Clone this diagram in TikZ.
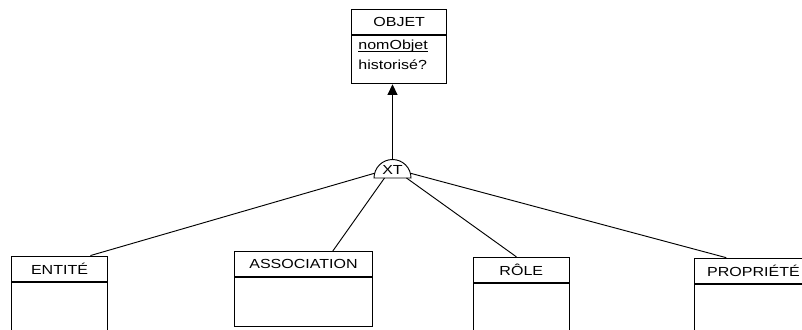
\documentclass[tikz,border=0pt]{standalone}
\usepackage{fontspec}
\setmainfont{Liberation Sans}[FakeStretch=1.22]
\usetikzlibrary{arrows.meta, positioning, calc}
\tikzset{
  classhead/.style={draw, line width=0.7pt, minimum height=19pt, inner sep=0pt},
  classbody/.style={draw, line width=0.7pt, minimum height=36.3pt, inner sep=5pt, align=left},
  link/.style={line width=0.7pt},
}

\begin{document}
\begin{tikzpicture}[x=0.75pt, y=-0.75pt, every node/.style={font=\fontsize{9.85}{15}\selectfont}]
  \clip (0,0) rectangle (802,329);
  % super type
  \node[classhead, minimum width=71.25pt] (obj) at (399.2,21.8) {OBJET};
  \node[classbody, text width=61.25pt, below=0pt of obj] (objattr) {\underline{\smash{nomObjet}}\\historisé?};
  % sub types
  \node[classhead, minimum width=71.7pt] (ent) at (59.5,268.7) {ENTITÉ};
  \node[classbody, minimum width=71.7pt, below=0pt of ent] (entattr) {};
  \node[classhead, minimum width=103.8pt] (asso) at (303.5,264.2) {ASSOCIATION};
  \node[classbody, minimum width=103.8pt, below=0pt of asso] (assoattr) {};
  \node[classhead, minimum width=72pt] (role) at (521.3,270) {RÔLE};
  \node[classbody, minimum width=72pt, below=0pt of role] (roleattr) {};
  \node[classhead, minimum width=89.25pt] (prop) at (753.5,270.8) {PROPRIÉTÉ};
  \node[classbody, minimum width=89.25pt, below=0pt of prop] (propattr) {};
  % XT specialisation
  \coordinate (xt) at (392.5,178);
  \coordinate (xttop) at ($(xt)+(0,-18.5)$);
  \draw[link] (xt) ++(-18.5,0) arc[start angle=180, end angle=360, radius=18.5] -- cycle;
  \node (xtlabel) at (392.5,170) {XT};
  \draw[link, -{Triangle[width=7.5pt, length=8pt]}] (xttop) -- (xttop |- objattr.south);
  \draw[link] (xt) ++(195:18.5) -- ($(ent.north west)!0.82!(ent.north east)$);
  \draw[link] (xt) ++(-8,0) -- ($(asso.north west)!0.71!(asso.north east)$);
  \draw[link] (xt) ++(14,0) -- ($(role.north west)!0.45!(role.north east)$);
  \draw[link] (xt) ++(345:18.5) -- ($(prop.north west)+(32.7,0)$);
\end{tikzpicture}
\end{document}
